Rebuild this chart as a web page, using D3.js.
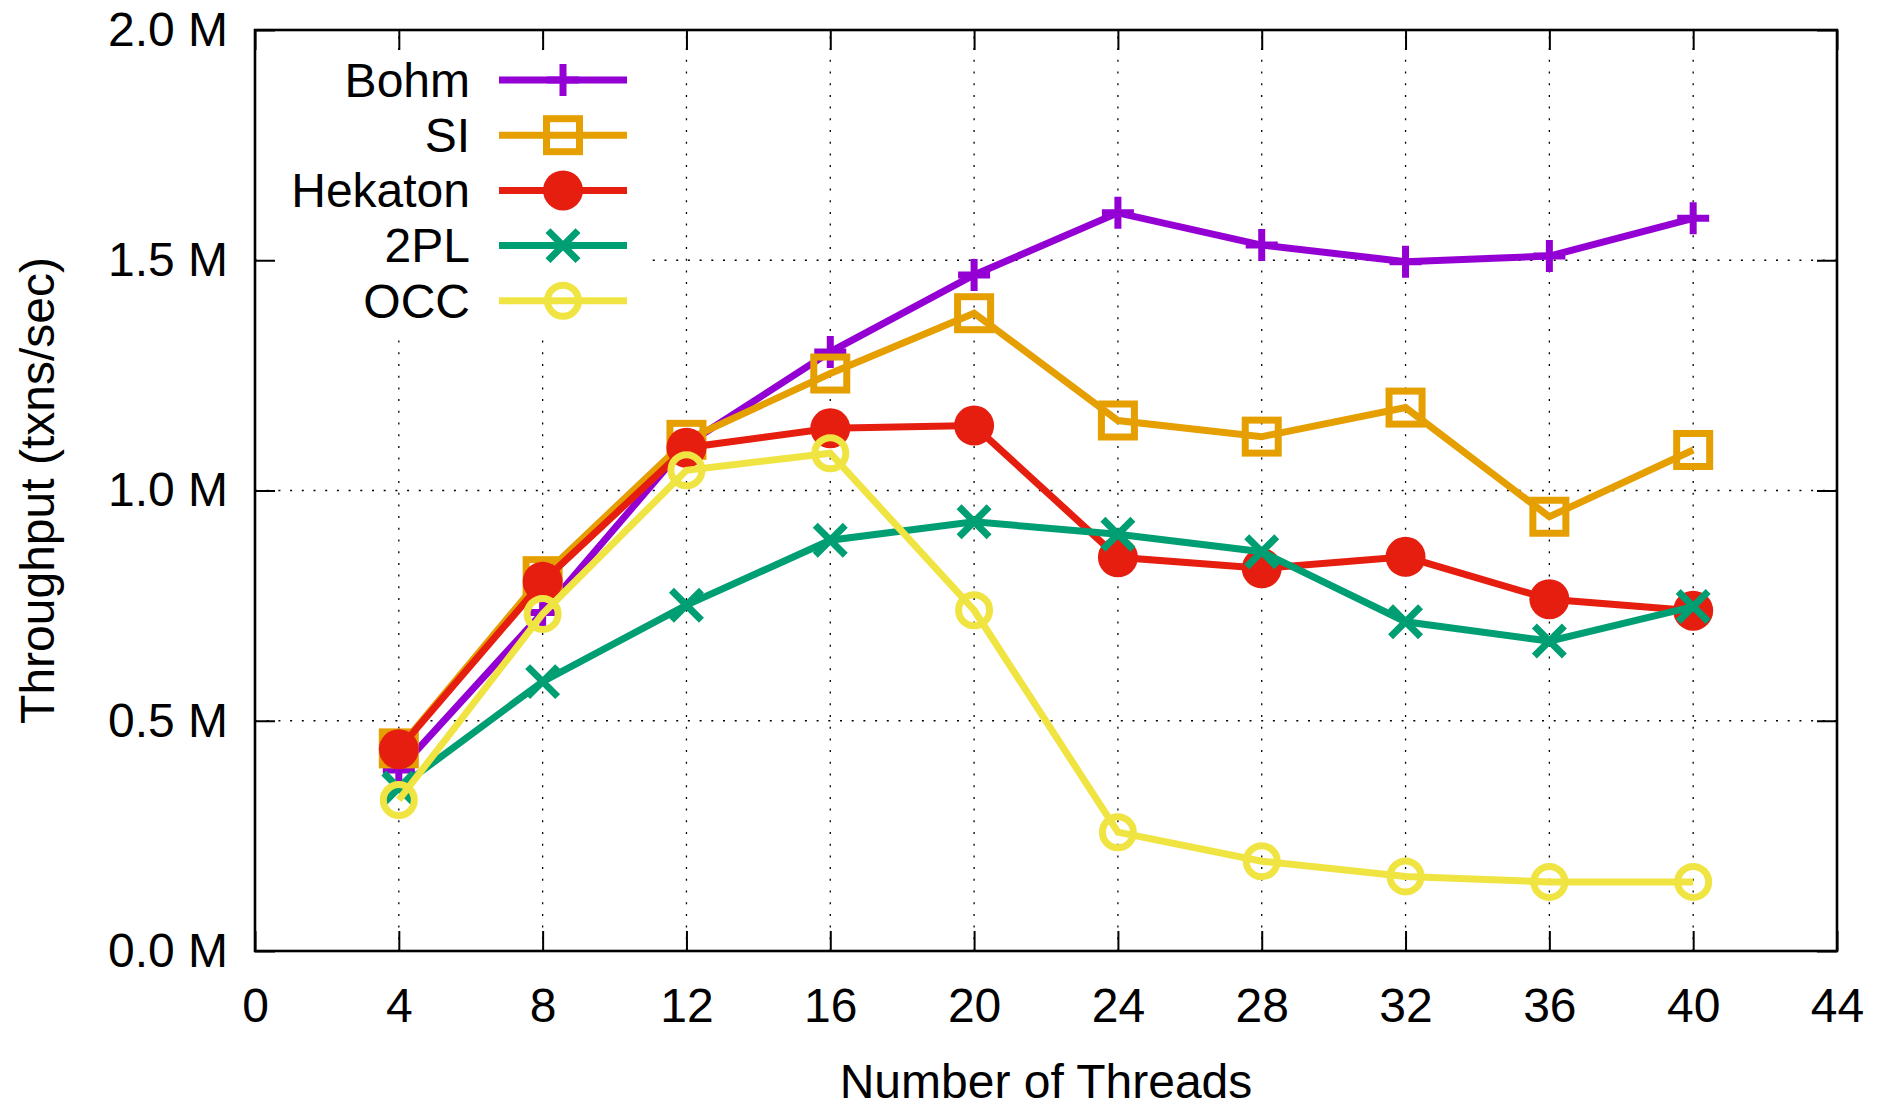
<!DOCTYPE html>
<html>
<head>
<meta charset="utf-8">
<script src="https://cdn.jsdelivr.net/npm/d3@7"></script>
<style>
  html, body { margin: 0; padding: 0; background: #fff; }
  svg { display: block; }
  text { font-family: "Liberation Sans", Arial, sans-serif; fill: #000; }
</style>
</head>
<body>
<svg id="chart" width="1880" height="1110"></svg>
<script>
// ---- data (throughput in millions of txns/sec) ----
const threads = [4, 8, 12, 16, 20, 24, 28, 32, 36, 40];
const bohm    = [0.393, 0.735, 1.100, 1.301, 1.468, 1.603, 1.533, 1.497, 1.509, 1.591];
const si      = [0.440, 0.814, 1.110, 1.254, 1.385, 1.152, 1.117, 1.180, 0.943, 1.088];
const hekaton = [0.438, 0.802, 1.093, 1.135, 1.141, 0.855, 0.831, 0.856, 0.764, 0.739];
const twoPL   = [0.354, 0.585, 0.751, 0.892, 0.932, 0.905, 0.867, 0.715, 0.673, 0.748];
const occ     = [0.328, 0.732, 1.044, 1.081, 0.740, 0.258, 0.195, 0.162, 0.150, 0.150];

const seriesNames = ["Bohm", "SI", "Hekaton", "2PL", "OCC"];
const xTicks = [0, 4, 8, 12, 16, 20, 24, 28, 32, 36, 40, 44];
const yTicks = [0, 0.5, 1.0, 1.5, 2.0];
const xTitle = "Number of Threads";
const yTitle = "Throughput (txns/sec)";

// ---- styling ----
const colors  = ["#9400d3", "#e69f00", "#e51e10", "#009e73", "#f0e442"];
const markers = ["plus", "square", "disc", "cross", "circle"];
const valuesList = [bohm, si, hekaton, twoPL, occ];

const W = 1880, H = 1110;
const L = 255, R = 1837, T = 30, B = 951;
const FS = 48;
const LW = 7;

const x = d3.scaleLinear().domain([0, 44]).range([L, R]);
const y = d3.scaleLinear().domain([0, 2]).range([B, T]);

const svg = d3.select("#chart");
svg.append("rect").attr("width", W).attr("height", H).attr("fill", "#fff");

// ---- grid ----
const grid = svg.append("g").attr("stroke", "#000").attr("stroke-width", 1.3)
  .attr("stroke-dasharray", "2,9.7").attr("fill", "none");
xTicks.filter(t => t > 0 && t < 44).forEach(t => {
  grid.append("line").attr("x1", x(t)).attr("x2", x(t)).attr("y1", B).attr("y2", T);
});
yTicks.filter(t => t > 0 && t < 2).forEach(t => {
  grid.append("line").attr("x1", L).attr("x2", R).attr("y1", y(t)).attr("y2", y(t));
});

// legend background (opaque key box hides grid)
svg.append("rect").attr("x", 262).attr("y", 52).attr("width", 390).attr("height", 286).attr("fill", "#fff");

// ---- axes ----
function styleAxis(g) {
  g.select(".domain").remove();
  g.selectAll(".tick line").attr("stroke", "#000").attr("stroke-width", 2);
  g.selectAll(".tick text").attr("font-size", FS).attr("font-family", "Liberation Sans, Arial, sans-serif");
}
svg.append("g").attr("transform", `translate(0,${B})`)
  .call(d3.axisBottom(x).tickValues(xTicks).tickSize(-20).tickPadding(37).tickFormat(d3.format("d")))
  .call(styleAxis);
svg.append("g").attr("transform", `translate(0,${T})`)
  .call(d3.axisTop(x).tickValues(xTicks).tickSize(-20).tickFormat(""))
  .call(styleAxis);
svg.append("g").attr("transform", `translate(${L},0)`)
  .call(d3.axisLeft(y).tickValues(yTicks).tickSize(-20).tickPadding(27).tickFormat(d => d.toFixed(1) + " M"))
  .call(styleAxis);
svg.append("g").attr("transform", `translate(${R},0)`)
  .call(d3.axisRight(y).tickValues(yTicks).tickSize(-20).tickFormat(""))
  .call(styleAxis);

// border
svg.append("rect").attr("x", L).attr("y", T).attr("width", R - L).attr("height", B - T)
  .attr("fill", "none").attr("stroke", "#000").attr("stroke-width", 2.6);

// ---- markers ----
function drawMarker(g, type, cx, cy, color) {
  if (type === "plus") {
    const s = 16;
    g.append("path").attr("d", `M${cx - s},${cy}H${cx + s}M${cx},${cy - s}V${cy + s}`)
      .attr("stroke", color).attr("stroke-width", LW).attr("fill", "none");
  } else if (type === "cross") {
    const s = 15;
    g.append("path").attr("d", `M${cx - s},${cy - s}L${cx + s},${cy + s}M${cx - s},${cy + s}L${cx + s},${cy - s}`)
      .attr("stroke", color).attr("stroke-width", LW).attr("fill", "none");
  } else if (type === "square") {
    const s = 16.5;
    g.append("rect").attr("x", cx - s).attr("y", cy - s).attr("width", 2 * s).attr("height", 2 * s)
      .attr("stroke", color).attr("stroke-width", LW).attr("fill", "none");
  } else if (type === "disc") {
    g.append("circle").attr("cx", cx).attr("cy", cy).attr("r", 20).attr("fill", color);
  } else if (type === "circle") {
    g.append("circle").attr("cx", cx).attr("cy", cy).attr("r", 15.5)
      .attr("stroke", color).attr("stroke-width", LW).attr("fill", "none");
  }
}

// ---- series ----
const line = d3.line().x(d => x(d[0])).y(d => y(d[1]));
valuesList.forEach((vals, i) => {
  const g = svg.append("g");
  const pts = threads.map((t, j) => [t, vals[j]]);
  g.append("path").datum(pts).attr("d", line)
    .attr("fill", "none").attr("stroke", colors[i]).attr("stroke-width", LW)
    .attr("stroke-linejoin", "miter");
  pts.forEach(p => drawMarker(g, markers[i], x(p[0]), y(p[1]), colors[i]));
});

// ---- legend ----
const legY0 = 80, legDY = 55.2;
seriesNames.forEach((name, i) => {
  const ly = legY0 + i * legDY;
  const g = svg.append("g");
  g.append("text").attr("x", 470).attr("y", ly).attr("dy", "0.35em")
    .attr("text-anchor", "end").attr("font-size", FS).text(name);
  g.append("line").attr("x1", 499).attr("x2", 627).attr("y1", ly).attr("y2", ly)
    .attr("stroke", colors[i]).attr("stroke-width", LW);
  drawMarker(g, markers[i], 563, ly, colors[i]);
});

// ---- axis titles ----
svg.append("text").attr("x", (L + R) / 2).attr("y", 1098).attr("text-anchor", "middle")
  .attr("font-size", FS).text(xTitle);
svg.append("text").attr("transform", `translate(37,${(T + B) / 2}) rotate(-90)`)
  .attr("text-anchor", "middle").attr("dy", "0.35em").attr("font-size", FS).text(yTitle);
</script>
</body>
</html>
